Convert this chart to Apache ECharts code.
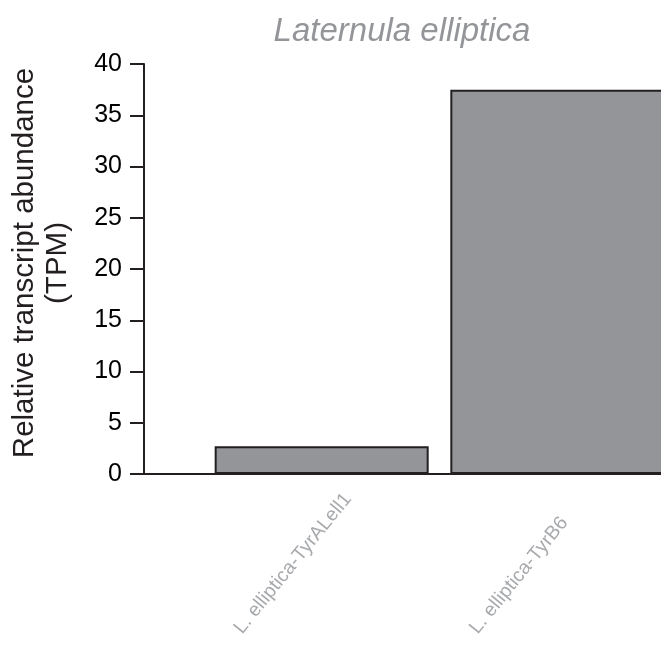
<!DOCTYPE html>
<html>
<head>
<meta charset="utf-8">
<script src="https://cdn.jsdelivr.net/npm/echarts@6/dist/echarts.min.js"></script>
<style>
html,body{margin:0;padding:0;background:#fff;overflow:hidden;}
#chart{width:661px;height:645px;}
</style>
</head>
<body>
<div id="chart"></div>
<script>
var categories = ['L. elliptica-TyrALell1', 'L. elliptica-TyrB6'];
var values = [2.7, 37.5];
var yTicks = { min: 0, max: 40, interval: 5 };
var xRange = { min: -0.754, max: 1.44 };
var titleText = 'Laternula elliptica';
var yName = 'Relative transcript abundance\n(TPM)';

var dark = '#231f20';
var grey = '#939598';
var font = 'Liberation Sans, Arial, sans-serif';

var barData = categories.map(function (c, i) {
  return { name: c, value: [i, values[i]] };
});

var chart = echarts.init(document.getElementById('chart'), null, { renderer: 'canvas' });
chart.setOption({
  animation: false,
  backgroundColor: '#ffffff',
  title: {
    text: titleText,
    left: 397, top: 10, textAlign: 'center',
    textStyle: { fontFamily: font, fontStyle: 'italic', fontWeight: 'normal', fontSize: 33, color: grey }
  },
  grid: { left: 143, right: 0, top: 64, bottom: 171 },
  xAxis: {
    type: 'value',
    min: xRange.min, max: xRange.max,
    axisLine: { show: true, onZero: false, lineStyle: { color: dark, width: 2 } },
    axisTick: { show: false },
    axisLabel: { show: false },
    splitLine: { show: false }
  },
  yAxis: {
    type: 'value',
    min: yTicks.min, max: yTicks.max, interval: yTicks.interval,
    name: yName,
    nameLocation: 'middle',
    nameGap: 70,
    nameRotate: 90,
    nameTextStyle: { fontFamily: font, fontSize: 29.5, color: dark, lineHeight: 33, padding: [0, 0, 0, 12] },
    splitLine: { show: false },
    axisLine: { show: true, onZero: false, lineStyle: { color: dark, width: 2 } },
    axisTick: { show: true, length: 14, lineStyle: { color: dark, width: 2 } },
    axisLabel: { margin: 22, fontFamily: font, fontSize: 25, color: '#000' }
  },
  series: [{
    type: 'bar',
    data: barData,
    barWidth: 214,
    itemStyle: { color: grey, borderColor: dark, borderWidth: 2 },
    label: {
      show: true,
      formatter: '{b}',
      position: ['50%', '100%'],
      rotate: 51,
      align: 'left',
      verticalAlign: 'middle',
      offset: [-175, 34],
      fontFamily: font,
      fontSize: 19.5,
      color: '#a7a9ac'
    }
  }]
});
</script>
</body>
</html>
